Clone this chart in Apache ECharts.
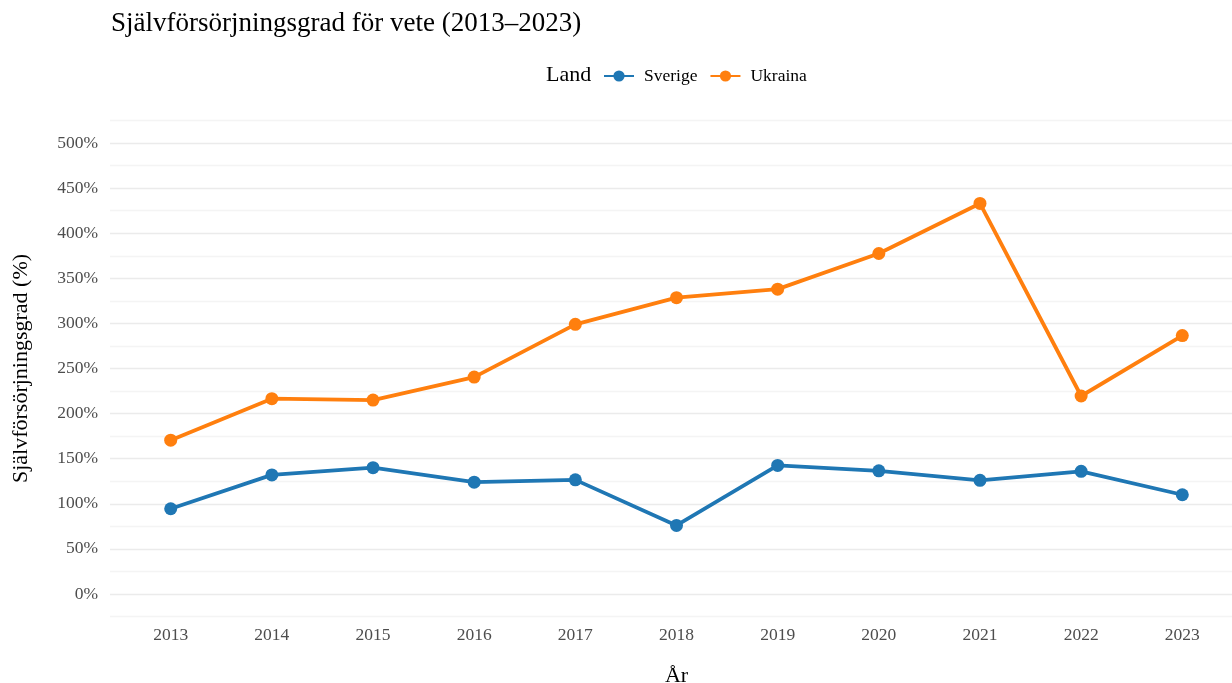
<!DOCTYPE html>
<html>
<head>
<meta charset="utf-8">
<script src="https://cdn.jsdelivr.net/npm/echarts@6/dist/echarts.min.js"></script>
<style>html,body{margin:0;padding:0;background:#fff;overflow:hidden;}#c{width:1232px;height:683px;}</style>
</head>
<body>
<div id="c"></div>
<script>
const years = [2013, 2014, 2015, 2016, 2017, 2018, 2019, 2020, 2021, 2022, 2023];
const sverige = [94.5, 132, 140, 124, 126.5, 76, 142.5, 136.5, 126, 136, 110];
const ukraina = [170.5, 216.5, 215, 240.5, 299, 328.5, 338, 377.5, 433, 219.5, 286.5];
const yTicks = [0, 50, 100, 150, 200, 250, 300, 350, 400, 450, 500];

const FONT = '"Liberation Serif", "Times New Roman", serif';
const chart = echarts.init(document.getElementById('c'), null, {renderer: 'canvas'});
chart.setOption({
  backgroundColor: '#ffffff',
  animation: false,
  textStyle: {fontFamily: FONT},
  title: [
    {text: 'Självförsörjningsgrad för vete (2013–2023)', left: 106, top: 5,
     textStyle: {fontFamily: FONT, fontSize: 27, fontWeight: 'normal', color: '#000'}},
    {text: 'Land', left: 541, top: 59,
     textStyle: {fontFamily: FONT, fontSize: 22, fontWeight: 'normal', color: '#000'}}
  ],
  legend: {
    left: 598, top: 62, itemWidth: 30, itemHeight: 14, itemGap: 12,
    textStyle: {fontFamily: FONT, fontSize: 17.5, color: '#000', padding: [0, 0, 0, 5]},
    data: ['Sverige', 'Ukraina']
  },
  grid: {left: 110, right: -11, top: 120.5, bottom: 66.5, containLabel: false, outerBoundsMode: 'none'},
  xAxis: {
    type: 'value', min: 2012.4, max: 2023.6,
    name: 'År', nameLocation: 'middle', nameGap: 49,
    nameTextStyle: {fontFamily: FONT, fontSize: 22, color: '#000'},
    axisLine: {show: false}, axisTick: {show: false},
    splitLine: {show: false},
    axisLabel: {customValues: years, formatter: v => String(Math.round(v)), margin: 10,
      fontFamily: FONT, fontSize: 17.5, color: '#4d4d4d'}
  },
  yAxis: {
    type: 'value', min: -25, max: 525, interval: 25,
    name: 'Självförsörjningsgrad (%)', nameLocation: 'middle', nameGap: 78, nameRotate: 90,
    nameTextStyle: {fontFamily: FONT, fontSize: 22, color: '#000'},
    axisLine: {show: false}, axisTick: {show: false},
    splitLine: {show: true, lineStyle: {color: ['#f4f4f4', '#ebebeb'], width: 1.3}},
    axisLabel: {
      margin: 12, fontFamily: FONT, fontSize: 17.5, color: '#4d4d4d', interval: 0,
      formatter: v => yTicks.includes(v) ? v + '%' : ''
    }
  },
  series: [
    {name: 'Sverige', type: 'line', data: years.map((y, i) => [y, sverige[i]]),
     symbol: 'circle', symbolSize: 13, lineStyle: {width: 3.8, color: '#1f77b4'},
     itemStyle: {color: '#1f77b4'}, color: '#1f77b4'},
    {name: 'Ukraina', type: 'line', data: years.map((y, i) => [y, ukraina[i]]),
     symbol: 'circle', symbolSize: 13, lineStyle: {width: 3.8, color: '#ff7f0e'},
     itemStyle: {color: '#ff7f0e'}, color: '#ff7f0e'}
  ]
});
</script>
</body>
</html>
